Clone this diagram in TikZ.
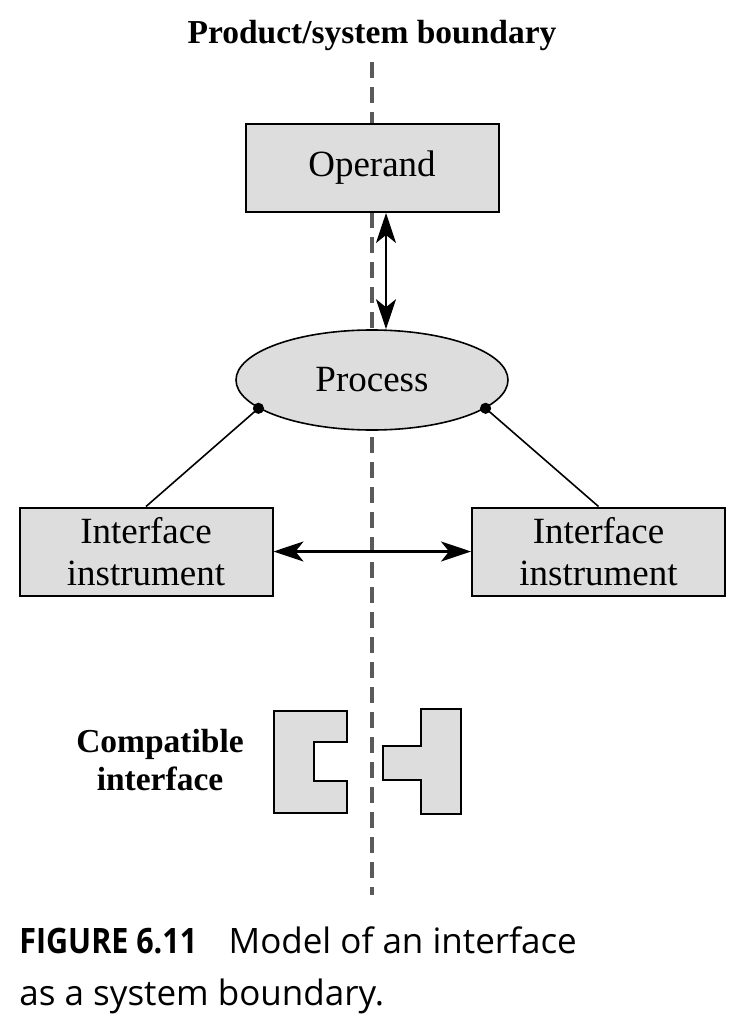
\documentclass[tikz,border=0pt]{standalone}
\usepackage{graphicx}
\usepackage{fontspec}
\setmainfont{Liberation Serif}
\newfontfamily\capfont{Open Sans}
\usetikzlibrary{arrows.meta,positioning,shapes.geometric}
\definecolor{bndgray}{RGB}{90,90,90}
\definecolor{boxgray}{RGB}{221,221,221}

\begin{document}
\begin{tikzpicture}[x=0.5pt,y=-0.5pt,
  sysbox/.style={draw,line width=1pt,fill=boxgray,minimum width=126.5pt,minimum height=44pt,
    align=center,inner sep=0pt,font=\fontsize{18.5}{21}\selectfont},
  sysarr/.style={{Stealth[length=15pt,width=10pt,inset=4pt]}-{Stealth[length=15pt,width=10pt,inset=4pt]},
    line width=1.1pt},
  bndline/.style={bndgray,line width=2pt,dash pattern=on 8pt off 4.5pt},
  boldlbl/.style={align=center,inner sep=0pt,font=\fontsize{16.75}{19}\selectfont\bfseries},
  plugshape/.style={draw,fill=boxgray,line width=1.2pt}
]
  \useasboundingbox (0,0) rectangle (745,1032);
  % System boundary
  \coordinate (bndtop) at (372,62);
  \coordinate (bndbot) at (372,895);
  \draw[bndline] (bndtop) -- (bndbot);
  \node[boldlbl] (bndlbl) at (372,35) {Product/system boundary};
  % Operand and process
  \node[sysbox] (op) at (372,168) {Operand};
  \node[draw,ellipse,fill=boxgray,line width=0.8pt,minimum width=136pt,minimum height=50pt,
    inner sep=0pt,font=\fontsize{18.5}{21}\selectfont] (proc) at (372,380) {Process};
  \draw[sysarr] ([xshift=7pt]op.south) -- ([xshift=7pt]proc.north);
  % Interface instruments
  \node[sysbox] (ifl) at (146,551.5) {Interface\\instrument};
  \node[sysbox] (ifr) at (598.5,551.5) {Interface\\instrument};
  \draw[line width=0.8pt] (proc.194) -- (ifl.north);
  \draw[line width=0.8pt] (proc.346) -- (ifr.north);
  \fill (proc.194) circle[radius=2.8pt];
  \fill (proc.346) circle[radius=2.8pt];
  \draw[sysarr] (ifl.east) -- (ifr.west);
  % Compatible interface
  \node[boldlbl] (compat) at (160,760) {Compatible\\interface};
  \draw[plugshape] (274,711) -- (347,711) -- (347,742) -- (314,742) -- (314,781)
    -- (347,781) -- (347,813) -- (274,813) -- cycle;
  \draw[plugshape] (421,709) -- (461,709) -- (461,814) -- (421,814) -- (421,780)
    -- (383,780) -- (383,746) -- (421,746) -- cycle;
  % Caption
  \node[anchor=north west,inner sep=0pt,align=left,
    font=\capfont\fontsize{17.5}{26}\selectfont] (cap) at (19,926)
    {\scalebox{0.87}[1]{\textbf{FIGURE 6.11}}\hspace{0.9em}Model of an interface\\as a system boundary.};
\end{tikzpicture}
\end{document}
